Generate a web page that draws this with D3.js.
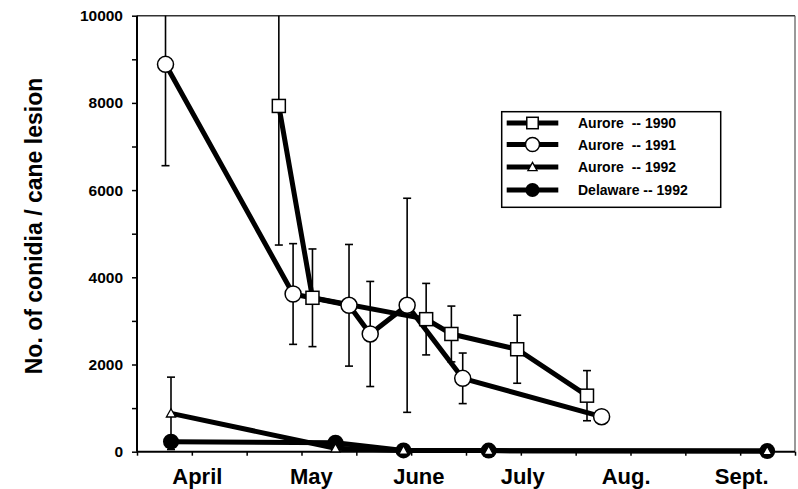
<!DOCTYPE html>
<html>
<head>
<meta charset="utf-8">
<script src="https://cdn.jsdelivr.net/npm/d3@7"></script>
<style>
  body { margin: 0; background: #fff; }
  text { font-family: "Liberation Sans", Arial, Helvetica, sans-serif; font-weight: bold; }
</style>
</head>
<body>
<div id="plano"></div>
<script>
// data (x = days on the season axis, y = conidia per lesion)
var months = ["April", "May", "June", "July", "Aug.", "Sept."];
var month_pos = [16.5, 47.7, 77.1, 105.5, 133.8, 165.4];

var aurore90_x = [38.8, 48.0, 79.1, 86.0, 104.0, 123.1];
var aurore90_y = [7930, 3530, 3040, 2700, 2350, 1285];
var aurore90_e = [3190, 1120, 820, 640, 780, 575];

var aurore91_x = [7.8, 42.7, 58.0, 63.8, 73.9, 89.1, 127.1];
var aurore91_y = [8885, 3617, 3358, 2700, 3358, 1683, 803];
var aurore91_e = [2325, 1155, 1395, 1205, 2455, 580, 0];

var aurore92_x = [9.3, 54.3, 72.9, 96.2, 172.4];
var aurore92_y = [880, 80, 30, 25, 15];
var aurore92_e = [830, 0, 0, 0, 0];

var delaware_x = [9.3, 54.3, 72.9, 96.2, 172.4];
var delaware_y = [230, 205, 30, 25, 15];

var legend_labels = ["Aurore  -- 1990", "Aurore  -- 1991", "Aurore  -- 1992", "Delaware -- 1992"];
var legend_marks = ["square", "circle", "triangle", "dot"];

var y_ticks = d3.range(0, 10001, 1000);
var x_ticks = d3.range(0, 181, 15);

var W = 798, H = 489;
var svg = d3.select("#plano").append("svg")
  .attr("width", W)
  .attr("height", H);

var x = d3.scaleLinear().domain([0, 180]).range([137, 795]);
var y = d3.scaleLinear().domain([0, 10000]).range([451.7, 15.7]);

// frame top and right
svg.append("line").attr("x1", x(0)).attr("x2", x(180)).attr("y1", y(10000)).attr("y2", y(10000))
  .attr("stroke", "#333").attr("stroke-width", 1.5);
svg.append("line").attr("x1", x(180)).attr("x2", x(180)).attr("y1", y(10000)).attr("y2", y(0))
  .attr("stroke", "#555").attr("stroke-width", 1.2);

// axes
var gy = svg.append("g")
  .attr("transform", "translate(" + x(0) + ",0)")
  .call(d3.axisLeft(y).tickValues(y_ticks).tickSize(5).tickPadding(9)
    .tickFormat(function(d) { return d % 2000 === 0 ? d : ""; }));
gy.select(".domain").attr("stroke-width", 2).attr("d", "M0," + y(0) + "V" + y(10000));
gy.selectAll(".tick line").attr("stroke-width", 1.5);
gy.selectAll(".tick text").style("font-size", "15.5px").attr("fill", "#000");

var gx = svg.append("g")
  .attr("transform", "translate(0," + y(0) + ")")
  .call(d3.axisBottom(x).tickValues(x_ticks).tickSize(4).tickFormat(""));
gx.select(".domain").attr("stroke-width", 2).attr("d", "M" + x(0) + ",0H" + x(180));
gx.selectAll(".tick line").attr("stroke-width", 1.5);

months.forEach(function(m, i) {
  svg.append("text")
    .attr("x", x(month_pos[i]))
    .attr("y", 484)
    .attr("text-anchor", "middle")
    .style("font-size", "22px")
    .text(m);
});

svg.append("text")
  .attr("transform", "translate(42,226) rotate(-90)")
  .attr("text-anchor", "middle")
  .style("font-size", "23px")
  .text("No. of conidia / cane lesion");

function error_bars(xs, ys, es) {
  xs.forEach(function(xv, i) {
    if (!es[i]) return;
    var top = ys[i] + es[i], bot = Math.max(ys[i] - es[i], 0);
    var clipped = top > 10000;
    top = Math.min(top, 10000);
    svg.append("line").attr("x1", x(xv)).attr("x2", x(xv))
      .attr("y1", y(top)).attr("y2", y(bot))
      .attr("stroke", "#000").attr("stroke-width", 1.6);
    if (!clipped)
      svg.append("line").attr("x1", x(xv) - 4).attr("x2", x(xv) + 4)
        .attr("y1", y(top)).attr("y2", y(top))
        .attr("stroke", "#000").attr("stroke-width", 1.6);
    svg.append("line").attr("x1", x(xv) - 4).attr("x2", x(xv) + 4)
      .attr("y1", y(bot)).attr("y2", y(bot))
      .attr("stroke", "#000").attr("stroke-width", 1.6);
  });
}

function series_line(xs, ys) {
  var line = d3.line().x(function(d) { return x(d[0]); }).y(function(d) { return y(d[1]); });
  svg.append("path")
    .datum(d3.zip(xs, ys))
    .attr("d", line)
    .attr("fill", "none")
    .attr("stroke", "#000")
    .attr("stroke-width", 5)
    .attr("stroke-linejoin", "round");
}

function marker(g, kind, cx, cy, big) {
  var s = big ? 1 : 0.88;
  if (kind === "square") {
    g.append("rect").attr("x", cx - 6.5 * s).attr("y", cy - 6.5 * s)
      .attr("width", 13 * s).attr("height", 13 * s)
      .attr("fill", "#fff").attr("stroke", "#000").attr("stroke-width", 1.5);
  } else if (kind === "circle") {
    g.append("circle").attr("cx", cx).attr("cy", cy).attr("r", 8 * s)
      .attr("fill", "#fff").attr("stroke", "#000").attr("stroke-width", 1.5);
  } else if (kind === "dot") {
    g.append("circle").attr("cx", cx).attr("cy", cy).attr("r", 8 * s)
      .attr("fill", "#000");
  } else {
    var t = 4.6;
    g.append("path")
      .attr("d", "M" + cx + "," + (cy - t) + "L" + (cx + t) + "," + (cy + t * 0.8) + "L" + (cx - t) + "," + (cy + t * 0.8) + "Z")
      .attr("fill", "#fff").attr("stroke", "#000").attr("stroke-width", 1.3);
  }
}

error_bars(aurore90_x, aurore90_y, aurore90_e);
error_bars(aurore91_x, aurore91_y, aurore91_e);
error_bars(aurore92_x, aurore92_y, aurore92_e);

series_line(delaware_x, delaware_y);
series_line(aurore92_x, aurore92_y);
series_line(aurore91_x, aurore91_y);
series_line(aurore90_x, aurore90_y);

var marks = svg.append("g");
delaware_x.forEach(function(v, i) { marker(marks, "dot", x(v), y(delaware_y[i]), true); });
aurore91_x.forEach(function(v, i) { marker(marks, "circle", x(v), y(aurore91_y[i]), true); });
aurore90_x.forEach(function(v, i) { marker(marks, "square", x(v), y(aurore90_y[i]), true); });
aurore92_x.forEach(function(v, i) { marker(marks, "triangle", x(v), y(aurore92_y[i]), true); });

// legend
var lg = svg.append("g");
lg.append("rect").attr("x", 501.7).attr("y", 111.7).attr("width", 219).attr("height", 95.6)
  .attr("fill", "#fff").attr("stroke", "#000").attr("stroke-width", 1.5);
var row_y = [123, 144.5, 167, 190];
legend_labels.forEach(function(lab, i) {
  lg.append("line").attr("x1", 506.7).attr("x2", 558.3)
    .attr("y1", row_y[i]).attr("y2", row_y[i])
    .attr("stroke", "#000").attr("stroke-width", 5);
  marker(lg, legend_marks[i], 532.5, row_y[i], false);
  lg.append("text")
    .attr("x", 578)
    .attr("y", row_y[i] + 5)
    .attr("xml:space", "preserve")
    .style("white-space", "pre")
    .style("font-size", "14px")
    .text(lab);
});
</script>
</body>
</html>
